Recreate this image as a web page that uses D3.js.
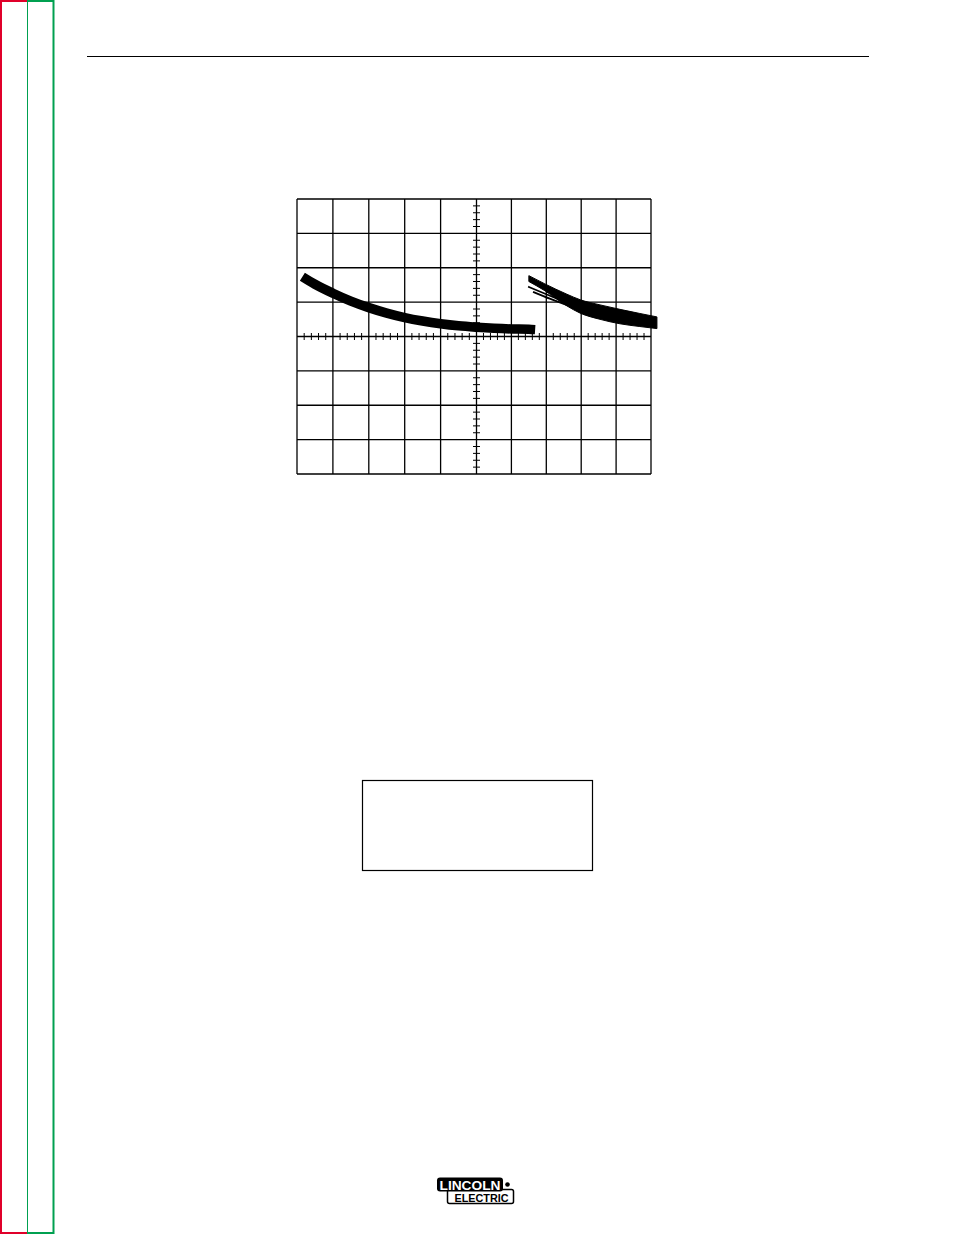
<!DOCTYPE html>
<html><head><meta charset="utf-8">
<script src="https://cdn.jsdelivr.net/npm/d3@7"></script>
<style>html,body{margin:0;padding:0;background:#fff;}svg{display:block;}</style>
</head><body>
<script>
// grid divisions (oscilloscope screen)
const xDivs = [-5,-4,-3,-2,-1,0,1,2,3,4,5];
const yDivs = [-4,-3,-2,-1,0,1,2,3,4];
// trace 1 (left sweep) centre line, in divisions
const trace1X = [-4.85,-4.5,-4.0,-3.5,-3.0,-2.5,-2.0,-1.5,-1.0,-0.5,0,0.5,1.0,1.5,1.68];
const trace1Y = [1.74,1.52,1.26,1.03,0.84,0.68,0.55,0.45,0.37,0.31,0.27,0.24,0.22,0.21,0.20];
// trace 2 (right sweep) band edges
const trace2X = [1.50,1.96,2.59,2.97,3.54,4.11,4.68,5.17];
const trace2Top = [1.77,1.53,1.23,1.07,0.92,0.79,0.67,0.57];
const trace2Bot = [1.60,1.33,0.89,0.68,0.50,0.37,0.29,0.23];
// thin fanned traces at the start of trace 2
const fanAX = [1.48,2.0,2.6];
const fanAY = [1.45,1.23,0.98];
const fanBX = [1.62,2.1,2.6];
const fanBY = [1.30,1.10,0.91];

const W=954,H=1235;
const svg=d3.select("body").append("svg").attr("width",W).attr("height",H);

// page border lines
svg.append("rect").attr("x",0).attr("y",0).attr("width",2).attr("height",1234).attr("fill","#e0002a");
svg.append("rect").attr("x",0).attr("y",0).attr("width",27).attr("height",2).attr("fill","#e0002a");
svg.append("rect").attr("x",0).attr("y",1232).attr("width",27).attr("height",2).attr("fill","#e0002a");
svg.append("rect").attr("x",27).attr("y",0).attr("width",1).attr("height",1234).attr("fill","#00a050");
svg.append("rect").attr("x",27).attr("y",0).attr("width",27).attr("height",2).attr("fill","#00a050");
svg.append("rect").attr("x",27).attr("y",1232).attr("width",27).attr("height",2).attr("fill","#00a050");
svg.append("rect").attr("x",52.5).attr("y",0).attr("width",2).attr("height",1234).attr("fill","#00a050");

// header rule
svg.append("line").attr("x1",87).attr("x2",869).attr("y1",56.5).attr("y2",56.5).attr("stroke","#000").attr("stroke-width",1.2);

// scales
const x=d3.scaleLinear().domain([-5,0,5]).range([297,476.5,651]);
const y=d3.scaleLinear().domain([-4,4]).range([474,199]);

const g=svg.append("g");
g.selectAll("line.v").data(xDivs).join("line").attr("class","v")
  .attr("x1",d=>x(d)).attr("x2",d=>x(d)).attr("y1",y(4)).attr("y2",y(-4))
  .attr("stroke","#000").attr("stroke-width",1.3);
g.selectAll("line.h").data(yDivs).join("line").attr("class","h")
  .attr("y1",d=>y(d)).attr("y2",d=>y(d)).attr("x1",x(-5)).attr("x2",x(5))
  .attr("stroke","#000").attr("stroke-width",1.3);

// centre axis minor ticks
const xMinor=d3.range(-5,5.001,0.2).filter(v=>Math.abs(v-Math.round(v))>0.01);
const yMinor=d3.range(-4,4.001,0.2).filter(v=>Math.abs(v-Math.round(v))>0.01);
g.selectAll("line.xm").data(xMinor).join("line").attr("class","xm")
  .attr("x1",d=>x(d)).attr("x2",d=>x(d)).attr("y1",y(0)-3.5).attr("y2",y(0)+3.5)
  .attr("stroke","#000").attr("stroke-width",1);
g.selectAll("line.ym").data(yMinor).join("line").attr("class","ym")
  .attr("y1",d=>y(d)).attr("y2",d=>y(d)).attr("x1",x(0)-3.5).attr("x2",x(0)+3.5)
  .attr("stroke","#000").attr("stroke-width",1);

// traces
const line=d3.line().x(d=>x(d[0])).y(d=>y(d[1])).curve(d3.curveMonotoneX);
g.append("path").datum(trace1X.map((v,i)=>[v,trace1Y[i]]))
  .attr("d",line).attr("fill","none").attr("stroke","#000").attr("stroke-width",9.5).attr("stroke-linecap","butt");

const area=d3.area().x(d=>x(d.x)).y0(d=>y(d.b)).y1(d=>y(d.t)).curve(d3.curveMonotoneX);
g.append("path").datum(trace2X.map((v,i)=>({x:v,t:trace2Top[i],b:trace2Bot[i]})))
  .attr("d",area).attr("fill","#000").attr("stroke","#000").attr("stroke-width",1);
[[fanAX,fanAY],[fanBX,fanBY]].forEach(([fx,fy])=>{
  g.append("path").datum(fx.map((v,i)=>[v,fy[i]])).attr("d",line)
   .attr("fill","none").attr("stroke","#000").attr("stroke-width",1.8);
});

// empty box
svg.append("rect").attr("x",362.5).attr("y",780.5).attr("width",230).attr("height",90)
  .attr("fill","none").attr("stroke","#000").attr("stroke-width",1.2);

// logo
const lg=svg.append("g");
lg.append("rect").attr("x",447.5).attr("y",1189.5).attr("width",66).attr("height",14).attr("rx",2)
  .attr("fill","#fff").attr("stroke","#000").attr("stroke-width",1.5);
lg.append("rect").attr("x",437).attr("y",1177.5).attr("width",66).attr("height",14).attr("rx",3).attr("fill","#000");
lg.append("text").attr("x",470).attr("y",1190).attr("text-anchor","middle")
  .attr("font-family","Liberation Sans, Arial, sans-serif").attr("font-weight","bold").attr("font-size",13.5)
  .attr("fill","#fff").attr("textLength",61).attr("lengthAdjust","spacingAndGlyphs").text("LINCOLN");
lg.append("text").attr("x",481.5).attr("y",1201.5).attr("text-anchor","middle")
  .attr("font-family","Liberation Sans, Arial, sans-serif").attr("font-weight","bold").attr("font-size",10)
  .attr("fill","#000").attr("textLength",54).attr("lengthAdjust","spacingAndGlyphs").text("ELECTRIC");
lg.append("circle").attr("cx",507.5).attr("cy",1184.5).attr("r",2.3).attr("fill","#000");
</script>
</body></html>
